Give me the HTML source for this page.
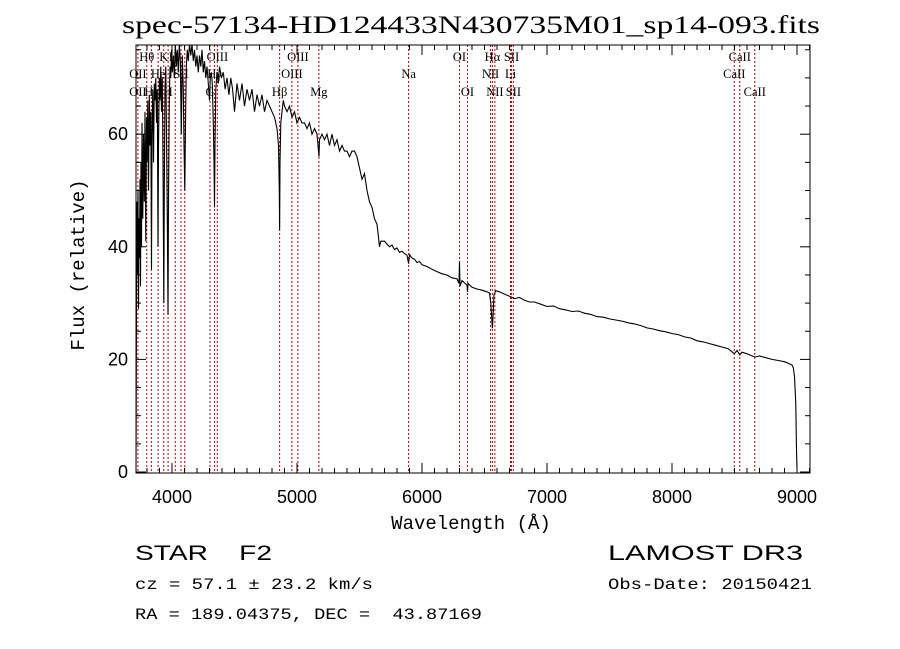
<!DOCTYPE html>
<html><head><meta charset="utf-8"><style>
html,body{margin:0;padding:0;background:#fff;}
svg{display:block;}
text{white-space:pre;}
</style></head><body>
<svg id="chart" width="900" height="649" viewBox="0 0 900 649" xmlns="http://www.w3.org/2000/svg">
<defs><clipPath id="plotclip"><rect x="136" y="45" width="674" height="428"/></clipPath></defs>
<text x="122" y="33" font-family="Liberation Serif, serif" font-size="25" textLength="698" lengthAdjust="spacingAndGlyphs">spec-57134-HD124433N430735M01_sp14-093.fits</text>
<g id="lines"></g>
<g id="labels"></g>
<g id="series" clip-path="url(#plotclip)"></g>
<rect x="136" y="45" width="674" height="428" fill="none" stroke="#000" stroke-width="1"/>
<g id="ticks"></g>
<text transform="translate(84,265) rotate(-90)" text-anchor="middle" font-family="Liberation Mono, monospace" font-size="19">Flux (relative)</text>
<text x="471" y="529" text-anchor="middle" font-family="Liberation Mono, monospace" font-size="19">Wavelength (Å)</text>
<text x="135" y="560" font-family="Liberation Sans, sans-serif" font-size="21" textLength="137" lengthAdjust="spacingAndGlyphs" xml:space="preserve">STAR    F2</text>
<text x="608" y="560" font-family="Liberation Sans, sans-serif" font-size="21" textLength="195" lengthAdjust="spacingAndGlyphs">LAMOST DR3</text>
<text x="135" y="589" font-family="Liberation Mono, monospace" font-size="16" textLength="238" lengthAdjust="spacingAndGlyphs" xml:space="preserve">cz = 57.1 ± 23.2 km/s</text>
<text x="608" y="589" font-family="Liberation Mono, monospace" font-size="16" textLength="204" lengthAdjust="spacingAndGlyphs">Obs-Date: 20150421</text>
<text x="135" y="619" font-family="Liberation Mono, monospace" font-size="16" textLength="347" lengthAdjust="spacingAndGlyphs" xml:space="preserve">RA = 189.04375, DEC =  43.87169</text>
</svg>
<script>
const wavelengths = [
3712,3716,3720,3724,3728,3732,3736,3740,3744,3748,
3752,3756,3760,3766,3772,3778,3784,3790,3796,3800,
3806,3812,3818,3824,3830,3836,3840,3846,3852,3858,
3864,3870,3876,3882,3888,3892,3898,3904,3910,3916,
3922,3928,3934,3938,3944,3950,3956,3962,3968,3972,
3978,3984,3990,3996,4002,4010,4018,4026,4034,4042,
4050,4058,4066,4074,4082,4090,4096,4102,4108,4114,
4122,4130,4140,4150,4160,4170,4180,4190,4200,4210,
4220,4230,4240,4250,4260,4270,4280,4290,4300,4306,
4314,4322,4330,4336,4340,4344,4350,4360,4370,4380,
4395,4410,4425,4440,4455,4470,4485,4500,4520,4540,
4560,4580,4600,4620,4640,4660,4680,4700,4720,4740,
4760,4780,4800,4820,4840,4852,4858,4861,4864,4870,
4880,4890,4900,4920,4940,4960,4980,5000,5020,5040,
5060,5080,5100,5120,5140,5160,5172,5176,5180,5200,
5220,5240,5260,5280,5300,5320,5340,5360,5380,5400,
5420,5440,5460,5480,5500,5520,5540,5560,5580,5600,
5620,5640,5650,5660,5670,5680,5700,5720,5740,5760,
5780,5800,5820,5840,5860,5880,5893,5900,5920,5940,
5960,5980,6000,6040,6080,6120,6160,6200,6240,6280,
6296,6300,6304,6320,6360,6364,6368,6400,6440,6480,
6520,6540,6550,6556,6563,6570,6576,6590,6620,6660,
6700,6740,6780,6820,6860,6900,6950,7000,7050,7100,
7150,7200,7250,7300,7350,7400,7450,7500,7550,7600,
7650,7700,7750,7800,7850,7900,7950,8000,8050,8100,
8150,8200,8250,8300,8350,8400,8450,8498,8520,8542,
8560,8600,8662,8700,8750,8800,8850,8900,8940,8960,
8970,8980,8990,8996,9000];
const fluxValues = [
0,30,48,35,50,29,45,38,52,33,
55,40,62,45,60,48,64,41,63,55,
66,50,67,58,64,36,60,68,55,69,
66,70,62,68,40,58,70,66,72,64,
70,55,30,50,68,72,60,45,28,48,
66,72,70,75,71,74,70,76,72,75,
71,76,73,60,74,68,58,50,62,72,
75,73,76,74,76,73,75,72,74,71,
74,72,75,71,73,70,72,69,66,70,
71,69,62,55,47,58,68,71,69,72,
70,71,68,70,67,70,68,64,69,66,
69,65,68,66,68,64,67,65,67,64,
66,65,64,63,61,58,50,43,55,62,
64,66,65,64,65,63,64,62,63,62,
62,61,62,60,61,60,57,56,59,60,
59,60,58,60,58,59,57,58,57,57,
56,57,57,56,54,52,53,50,48,47,
45,44,42,40,41,41,41,40.5,40,40.3,
39.5,39.8,39,39.2,38.8,38.5,37,38.6,38,37.8,
37.2,37.4,36.8,36.5,36,35.6,35.2,35,34.5,34.3,
33.5,37.5,33,34,33.2,32,33.5,32.8,32.5,32.3,
32,31.8,30,28,25.5,28.5,31.5,32.2,32,31.6,
31.2,30.8,31,30.5,30.2,30.2,29.8,29.4,29.5,29,
28.8,28.5,28.6,28.2,28,27.6,27.5,27.2,27,26.8,
26.5,26.3,26,25.6,25.4,25.1,24.9,24.6,24.4,24,
23.8,23.3,23.1,22.8,22.5,22.2,21.9,21,21.6,20.8,
21.3,21,20.4,20.6,20.3,20,19.8,19.6,19.2,19,
18.5,17,12,4,0.5];
const markerWl = [3727,3798,3835,3889,3934,3969,4026,4072,4102,4304,4340,4363,4861,4959,5007,5175,5893,6300,6364,6548,6563,6583,6708,6716,6731,8498,8542,8662];
const labelText = ["Hθ","K","H","OIII","OIII","OI","Hα","SII","CaII","OII","He","SII","Hγ","OIII","Na","NII","Li","CaII","OII","Hε","H","G","Hβ","Mg","OI","NII","SII","CaII"];
const labelWl = [3798,3934,4010,4363,5007,6300,6563,6716,8542,3727,3889,4072,4340,4959,5893,6548,6708,8498,3727,3835,3969,4304,4861,5175,6364,6583,6731,8662];
const labelRow = [0,0,0,0,0,0,0,0,0,1,1,1,1,1,1,1,1,1,2,2,2,2,2,2,2,2,2,2];
const xTicks = [4000,5000,6000,7000,8000,9000];
const yTicks = [0,20,40,60];

const NS="http://www.w3.org/2000/svg";
const X0=136,X1=810,Y0=45,Y1=473;
function xs(w){return 297+(w-5000)*0.125;}
function ys(f){return 472-f*5.63;}
function mk(tag,attrs,parent){const e=document.createElementNS(NS,tag);for(const k in attrs)e.setAttribute(k,attrs[k]);parent.appendChild(e);return e;}

const gl=document.getElementById('lines');
markerWl.forEach(w=>{
  const l=mk('line',{x1:xs(w),x2:xs(w),y1:Y0,y2:Y1,stroke:'#c00000','stroke-width':1,'stroke-dasharray':'2,2'},gl);
  
  
});
const glab=document.getElementById('labels');
const rowY=[61,78,96];
labelText.forEach((t,i)=>{
  const e=mk('text',{x:xs(labelWl[i]),y:rowY[labelRow[i]],'text-anchor':'middle','font-family':'Liberation Serif, serif','font-size':12.5},glab);
  e.textContent=t;
  
  
});

const gs=document.getElementById('series');
let d='';
wavelengths.forEach((w,i)=>{d+=(i?'L':'M')+xs(w).toFixed(1)+','+ys(fluxValues[i]).toFixed(1);});
const p=mk('path',{d:d,fill:'none',stroke:'#000','stroke-width':1.1},gs);



const gt=document.getElementById('ticks');
for(let w=3800;w<=9100;w+=100){
  const maj=w%1000===0, L=maj?10:5;
  mk('line',{x1:xs(w),x2:xs(w),y1:Y1,y2:Y1-L,stroke:'#000'},gt);
  mk('line',{x1:xs(w),x2:xs(w),y1:Y0,y2:Y0+L,stroke:'#000'},gt);
}
xTicks.forEach(w=>{
  const t=mk('text',{x:xs(w),y:503,'text-anchor':'middle','font-family':'Liberation Sans, sans-serif','font-size':18},gt);
  t.textContent=w;
  
  
});
for(let f=0;f<=75;f+=5){
  const maj=f%20===0, L=maj?10:5;
  mk('line',{x1:X0,x2:X0+L,y1:ys(f),y2:ys(f),stroke:'#000'},gt);
  mk('line',{x1:X1,x2:X1-L,y1:ys(f),y2:ys(f),stroke:'#000'},gt);
}
yTicks.forEach(f=>{
  const t=mk('text',{x:128,y:ys(f)+6,'text-anchor':'end','font-family':'Liberation Sans, sans-serif','font-size':18},gt);
  t.textContent=f;
  
  
});
</script>
</body></html>
